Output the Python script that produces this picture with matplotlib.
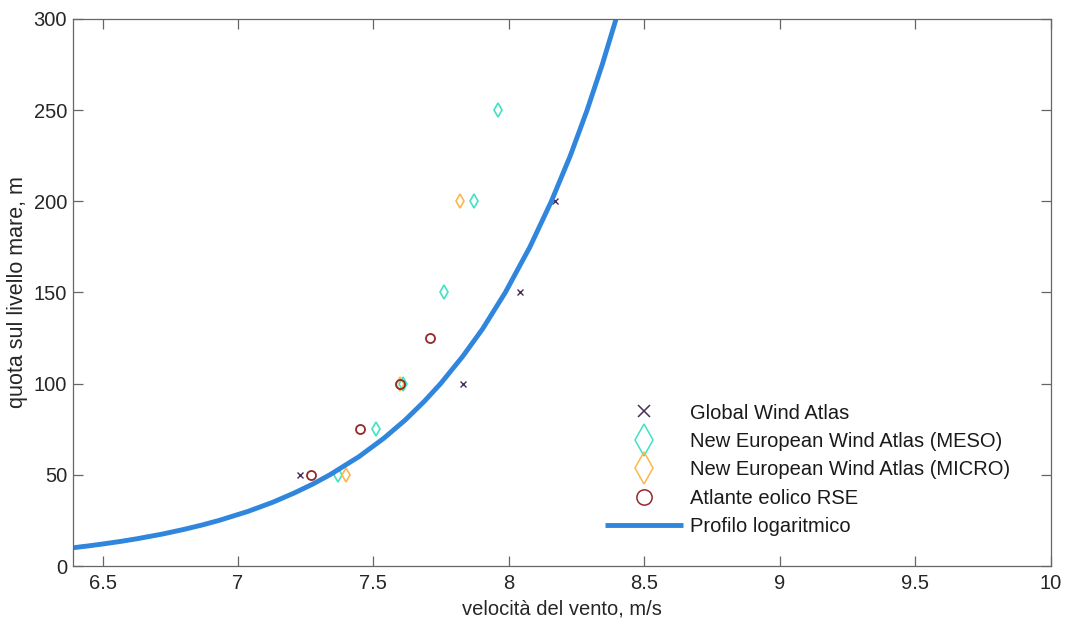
import matplotlib
matplotlib.use("Agg")
import matplotlib.pyplot as plt

plt.rcParams['font.family'] = ['Liberation Sans', 'DejaVu Sans']

# Global Wind Atlas
gwa_v = [7.23, 7.83, 8.04, 8.17]
gwa_z = [50, 100, 150, 200]

# New European Wind Atlas (MESO)
meso_v = [7.37, 7.51, 7.61, 7.76, 7.87, 7.96]
meso_z = [50, 75, 100, 150, 200, 250]

# New European Wind Atlas (MICRO)
micro_v = [7.40, 7.60, 7.82]
micro_z = [50, 100, 200]

# Atlante eolico RSE
rse_v = [7.27, 7.45, 7.60, 7.71]
rse_z = [50, 75, 100, 125]

# profilo logaritmico (velocità, quota)
prof_z = [10, 11, 12, 13.5, 15, 17.5, 20, 22.5, 25, 30, 35, 40, 45, 50, 60, 70,
          80, 90, 100, 115, 130, 150, 175, 200, 225, 250, 275, 300]
prof_v = [6.390, 6.446, 6.497, 6.567, 6.629, 6.720, 6.798, 6.868, 6.930, 7.038,
          7.129, 7.207, 7.277, 7.339, 7.447, 7.538, 7.617, 7.686, 7.748, 7.830,
          7.903, 7.987, 8.078, 8.157, 8.227, 8.289, 8.345, 8.396]

fig = plt.figure(figsize=(10.65, 6.22), dpi=100)
ax = fig.add_axes([0.0683, 0.0900, 0.9181, 0.8795])

ax.plot(gwa_v, gwa_z, linestyle='none', marker='x', markersize=4.5,
        markeredgewidth=1.0, color='#4a2d5c', label='Global Wind Atlas')
ax.plot(meso_v, meso_z, linestyle='none', marker='d', markersize=7.5,
        markeredgewidth=1.2, markerfacecolor='none', color='#3fe3c4',
        label='New European Wind Atlas (MESO)')
ax.plot(micro_v, micro_z, linestyle='none', marker='d', markersize=7.5,
        markeredgewidth=1.2, markerfacecolor='none', color='#fdb74a',
        label='New European Wind Atlas (MICRO)')
ax.plot(rse_v, rse_z, linestyle='none', marker='o', markersize=6.5,
        markeredgewidth=1.3, markerfacecolor='none', color='#952828',
        label='Atlante eolico RSE')
ax.plot(prof_v, prof_z, color='#2f86dc', linewidth=3.5,
        solid_capstyle='butt', label='Profilo logaritmico')

ax.set_xlim(6.39, 10)
ax.set_ylim(0, 300)
ax.set_xticks([6.5, 7, 7.5, 8, 8.5, 9, 9.5, 10])
ax.set_xticklabels(['6.5', '7', '7.5', '8', '8.5', '9', '9.5', '10'])
ax.set_yticks([0, 50, 100, 150, 200, 250, 300])

for s in ax.spines.values():
    s.set_color('#666666')
    s.set_linewidth(0.9)
ax.tick_params(direction='in', length=7, width=0.9, color='#666666',
               top=True, right=True, labelsize=14.5, labelcolor='#262626')
ax.tick_params(axis='x', pad=6)
ax.tick_params(axis='y', pad=4)

ax.set_xlabel('velocità del vento, m/s', fontsize=14.5, color='#262626')
ax.set_ylabel('quota sul livello mare, m', fontsize=15.5, color='#262626')
ax.xaxis.set_label_coords(0.5, -0.062)
ax.yaxis.set_label_coords(-0.046, 0.5)

leg = ax.legend(loc='upper left', bbox_to_anchor=(0.544, 0.297), frameon=False,
                fontsize=14.5, handlelength=3.9, handletextpad=0.35,
                labelspacing=0.47, borderpad=0, borderaxespad=0)
sizes = [9, 16, 16, 11, None]
for h, ms in zip(leg.legend_handles, sizes):
    if ms is not None:
        h.set_markersize(ms)
        h.set_markeredgewidth(1.1)
for t in leg.get_texts():
    t.set_color('#1a1a1a')

fig.savefig('out.png', dpi=100)
